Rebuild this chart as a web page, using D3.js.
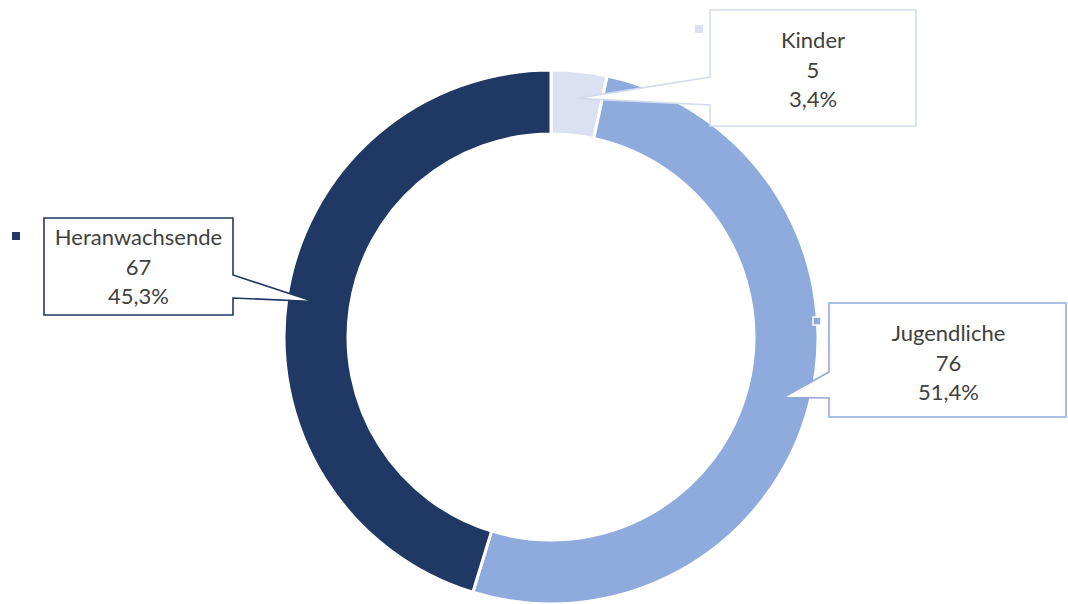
<!DOCTYPE html>
<html>
<head>
<meta charset="utf-8">
<script src="https://cdn.jsdelivr.net/npm/d3@7/dist/d3.min.js"></script>
<style>
  html, body { margin: 0; padding: 0; background: #fff; }
  svg { display: block; }
</style>
</head>
<body>
<svg id="chart" width="1068" height="604"></svg>
<script>
// Altersgruppen: Anzahl je Gruppe
const categories = ["Kinder", "Jugendliche", "Heranwachsende"];
const values = [5, 76, 67];
const percentLabels = ["3,4%", "51,4%", "45,3%"];
const colors = ["#D9E1F2", "#8FAADC", "#203864"];

// Callout box layout (x, y, width, height) and legend marker spot
const boxes = [
  { x: 710, y: 10, w: 206, h: 116, side: "left", marker: [695, 25] },
  { x: 829, y: 303, w: 237, h: 114, side: "left", marker: [813, 317] },
  { x: 44, y: 218, w: 189, h: 97, side: "right", marker: [12, 232] }
];

const width = 1068, height = 604;
const cx = 551, cy = 337, outerR = 267, innerR = 203;

const svg = d3.select("#chart");
const g = svg.append("g").attr("transform", `translate(${cx},${cy})`);

const pie = d3.pie().sort(null).value(d => d)(values);
const arc = d3.arc().innerRadius(innerR).outerRadius(outerR);

g.selectAll("path.slice")
  .data(pie)
  .join("path")
  .attr("class", "slice")
  .attr("d", arc)
  .attr("fill", (d, i) => colors[i])
  .attr("stroke", "#fff")
  .attr("stroke-width", 3);

const tipR = 240;
const borderColors = ["#D3DCEE", "#8FAADC", "#203864"];

pie.forEach((d, i) => {
  const b = boxes[i];
  const mid = (d.startAngle + d.endAngle) / 2;
  const tx = cx + tipR * Math.sin(mid);
  const ty = cy - tipR * Math.cos(mid);

  // callout outline with its pointer into the ring
  let path;
  if (b.side === "left") {
    const y1 = i === 0 ? b.y + 67 : b.y + 69;
    const y2 = b.y + 95;
    path = `M${b.x},${b.y} H${b.x + b.w} V${b.y + b.h} H${b.x} V${y2} L${tx},${ty} L${b.x},${y1} Z`;
  } else {
    const y1 = b.y + 57, y2 = b.y + 80;
    path = `M${b.x},${b.y} H${b.x + b.w} V${y1} L${tx},${ty} L${b.x + b.w},${y2} V${b.y + b.h} H${b.x} Z`;
  }
  svg.append("path")
    .attr("d", path)
    .attr("fill", "#fff")
    .attr("stroke", borderColors[i])
    .attr("stroke-width", 1.6)
    .attr("stroke-linejoin", "miter");

  // legend key marker
  svg.append("rect")
    .attr("x", b.marker[0]).attr("y", b.marker[1])
    .attr("width", 8).attr("height", 8)
    .attr("fill", colors[i])
    .attr("stroke", i === 1 ? "#fff" : "none")
    .attr("stroke-width", 1.5);

  const textX = b.x + b.w / 2 + (i === 1 ? 1 : 0);
  const lines = [categories[i], String(values[i]), percentLabels[i]];
  const firstY = i === 2 ? b.y + 27 : b.y + 38;
  const t = svg.append("text")
    .attr("x", textX)
    .attr("text-anchor", "middle")
    .attr("font-family", "Lato, 'Open Sans', sans-serif")
    .attr("font-size", 22)
    .attr("fill", "#404040");
  lines.forEach((ln, k) => {
    t.append("tspan")
      .attr("x", textX)
      .attr("y", firstY + k * 29.5)
      .text(ln);
  });
});
</script>
</body>
</html>
